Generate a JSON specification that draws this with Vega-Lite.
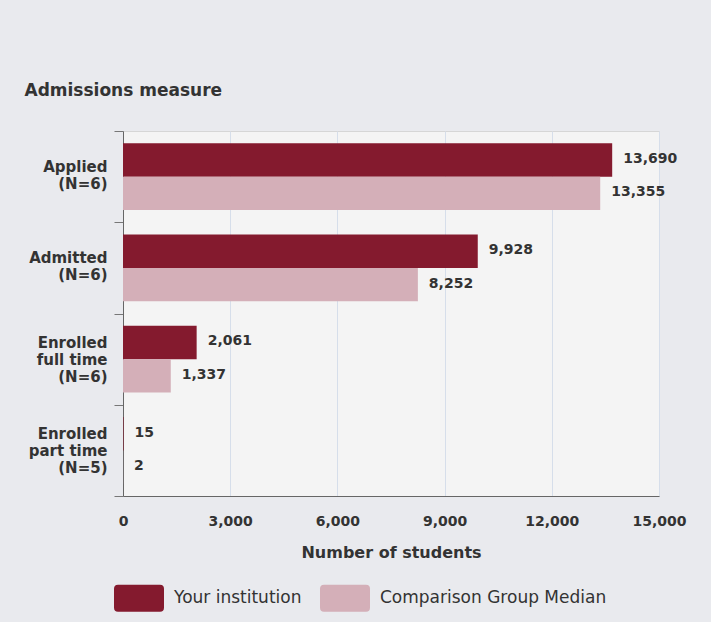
{
  "$schema": "https://vega.github.io/schema/vega-lite/v6.json",
  "width": 536,
  "height": 365,
  "autosize": {"type": "none"},
  "padding": {"left": 123, "top": 131, "right": 52, "bottom": 126},
  "background": "#e9eaee",
  "config": {
    "font": "DejaVu Sans",
    "view": {"fill": "#f4f4f4", "stroke": "#d6d6d6", "strokeWidth": 1}
  },
  "data": {
    "values": [
      {"measure": "Applied|(N=6)", "group": "Your institution", "value": 13690},
      {"measure": "Applied|(N=6)", "group": "Comparison Group Median", "value": 13355},
      {"measure": "Admitted|(N=6)", "group": "Your institution", "value": 9928},
      {"measure": "Admitted|(N=6)", "group": "Comparison Group Median", "value": 8252},
      {"measure": "Enrolled|full time|(N=6)", "group": "Your institution", "value": 2061},
      {"measure": "Enrolled|full time|(N=6)", "group": "Comparison Group Median", "value": 1337},
      {"measure": "Enrolled|part time|(N=5)", "group": "Your institution", "value": 15},
      {"measure": "Enrolled|part time|(N=5)", "group": "Comparison Group Median", "value": 2}
    ]
  },
  "encoding": {
    "y": {
      "field": "measure",
      "type": "nominal",
      "sort": null,
      "scale": {"paddingInner": 0, "paddingOuter": 0},
      "axis": {
        "title": "Admissions measure",
        "titleAngle": 0,
        "titleAlign": "left",
        "titleBaseline": "middle",
        "titleX": -99,
        "titleY": -41,
        "titleFontSize": 17,
        "titleFontWeight": "bold",
        "titleColor": "#333333",
        "labelExpr": "split(datum.label, '|')",
        "labelFontSize": 15,
        "labelFontWeight": "bold",
        "labelColor": "#333333",
        "labelLineHeight": 17,
        "labelOffset": {"condition": {"test": "length(split(datum.value, '|')) == 3", "value": -17}, "value": -10},
        "labelPadding": 7,
        "labelLimit": 200,
        "tickBand": "extent",
        "tickSize": 9,
        "tickColor": "#777777",
        "domainColor": "#666666",
        "grid": false
      }
    },
    "yOffset": {
      "field": "group",
      "sort": ["Your institution", "Comparison Group Median"],
      "scale": {"paddingInner": 0, "paddingOuter": 0.362}
    },
    "x": {
      "field": "value",
      "type": "quantitative",
      "scale": {"domain": [0, 15000], "nice": false},
      "axis": {
        "title": "Number of students",
        "titleFontSize": 16,
        "titleFontWeight": "bold",
        "titleColor": "#333333",
        "titlePadding": 16,
        "values": [0, 3000, 6000, 9000, 12000, 15000],
        "labelExpr": "format(datum.value, ',')",
        "labelFlush": false,
        "labelFontSize": 14,
        "labelFontWeight": "bold",
        "labelColor": "#333333",
        "labelPadding": 18,
        "ticks": false,
        "gridColor": "#d6deea",
        "domainColor": "#666666"
      }
    }
  },
  "layer": [
    {
      "mark": {"type": "bar"},
      "encoding": {
        "color": {
          "field": "group",
          "type": "nominal",
          "scale": {
            "domain": ["Your institution", "Comparison Group Median"],
            "range": ["#841a2e", "#d4afb8"]
          },
          "legend": {
            "orient": "none",
            "legendX": -9,
            "legendY": 442,
            "direction": "horizontal",
            "title": null,
            "symbolType": "M-0.84,-0.54L0.84,-0.54Q1,-0.54 1,-0.38L1,0.38Q1,0.54 0.84,0.54L-0.84,0.54Q-1,0.54 -1,0.38L-1,-0.38Q-1,-0.54 -0.84,-0.54Z",
            "symbolSize": 2500,
            "symbolStrokeWidth": 0,
            "symbolOpacity": 1,
            "labelFontSize": 17,
            "labelColor": "#333333",
            "labelOffset": 10,
            "labelLimit": 400,
            "columnPadding": 18,
            "padding": 0
          }
        }
      }
    },
    {
      "mark": {"type": "text", "align": "left", "baseline": "middle", "dx": 11, "dy": -1, "fontSize": 14, "fontWeight": "bold", "color": "#333333"},
      "encoding": {
        "text": {"field": "value", "type": "quantitative", "format": ","}
      }
    }
  ]
}
